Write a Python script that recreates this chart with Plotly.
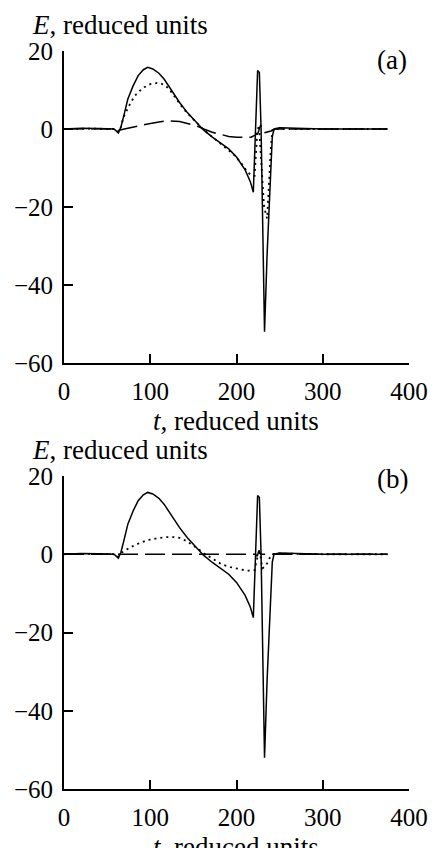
import plotly.graph_objects as go

# ---------------- data ----------------
# Solid curve (identical in panels a and b)
t_solid = [0, 20, 40, 58, 63, 66, 70, 74, 80, 86, 92, 97, 103, 110, 116, 125, 134,
           143, 153, 162, 172, 182, 191, 200, 210, 216, 219.5, 224.5, 226.5, 228.5,
           232.5, 235.5, 239.5, 241.5, 243.5, 250, 300, 375]
E_solid = [0, 0.2, 0.1, 0, -1.0, 0.5, 4.0, 7.7, 11.0, 13.7, 15.2, 15.8, 15.4, 14.3,
           12.8, 9.8, 6.8, 4.2, 1.7, -0.3, -2.1, -3.6, -5.1, -7.2, -10.5, -13.5,
           -16.2, 15.0, 14.5, 0, -52, -32, -14, -2, 0, 0.3, 0, 0]

# Panel (a) dotted
t_dot_a = [0, 30, 58, 63, 66, 69, 75, 82, 88, 93, 100, 108, 113, 118, 124, 131, 138,
           146, 153, 161, 170, 180, 189, 198, 206, 213, 218, 221, 224, 226, 229, 232,
           235.5, 238, 240, 242, 250, 300, 375]
E_dot_a = [0, 0.1, 0, -0.8, 0.5, 3.0, 5.8, 8.5, 9.8, 10.7, 11.5, 11.8, 11.6, 11.1,
           9.6, 7.3, 5.3, 3.4, 1.7, 0, -1.7, -3.4, -5.1, -6.8, -8.9, -11.1, -12,
           -12, -1, 1, -10, -20, -23, -12, -4, 0, 0, 0, 0]

# Panel (a) dashed
t_dash_a = [0, 30, 58, 63, 70, 80, 97, 110, 120, 134, 145, 153, 162, 172, 182, 191,
            200, 206, 217, 222, 225, 228, 232, 240, 245, 300, 375]
E_dash_a = [0, 0.1, 0, -0.4, 0, 0.5, 1.3, 1.8, 2.1, 1.9, 1.4, 0.85, 0, -0.85, -1.4,
            -1.9, -2.1, -2.1, -2.1, -1.5, -1, 1, -1, -0.5, 0, 0, 0]

# Panel (b) dotted
t_dot_b = [0, 30, 58, 63, 66, 72, 78, 88, 97, 108, 119, 127, 134, 142, 150, 156, 161,
           170, 183, 193, 202, 212, 221, 224, 227, 230, 234, 238, 242, 250, 300, 375]
E_dot_b = [0, 0.1, 0, -0.6, 0.3, 1.2, 1.9, 2.9, 3.6, 4.1, 4.4, 4.4, 4.2, 3.4, 2.3,
           1.3, 0.4, -0.9, -2.6, -3.3, -3.8, -4.2, -4.1, -1, 0.5, -3.6, -3.0, -1.1,
           0, 0.2, 0, 0]

# Panel (b) dashed
t_dash_b = [0, 222, 224, 226, 228, 240, 375]
E_dash_b = [0, 0, -0.5, 1, 0, 0, 0]

x_ticks = [0, 100, 200, 300, 400]
y_ticks = [-60, -40, -20, 0, 20]
panel_labels = ["(a)", "(b)"]
y_title = "<i>E</i>, reduced units"
x_title = "<i>t</i>, reduced units"

# ---------------- figure ----------------
FONT = "Liberation Serif, Times New Roman, serif"
W, H = 440, 848
ML, MR, MT, MB = 64, 21, 51, 59
PW, PH = W - ML - MR, H - MT - MB

def py(p):  # pixel y -> paper y
    return (H - MB - p) / PH

def px(p):  # pixel x -> paper x
    return (p - ML) / PW

fig = go.Figure()
black = "black"

def add_panel(xa, ya, series):
    for (t, e, dash, w) in series:
        fig.add_trace(go.Scatter(x=t, y=e, mode="lines", xaxis=xa, yaxis=ya,
                                 line=dict(color=black, width=w, dash=dash),
                                 showlegend=False, hoverinfo="skip"))

add_panel("x", "y", [
    (t_dash_a, E_dash_a, "20px,7px", 1.5),
    (t_dot_a, E_dot_a, "2px,4px", 1.8),
    (t_solid, E_solid, "solid", 1.5),
])
add_panel("x2", "y2", [
    (t_dash_b, E_dash_b, "20px,7px", 1.5),
    (t_dot_b, E_dot_b, "2px,4px", 1.8),
    (t_solid, E_solid, "solid", 1.5),
])

axis_common = dict(showgrid=False, zeroline=False, showline=True, linecolor=black,
                   linewidth=2, ticks="inside", ticklen=9, tickwidth=2,
                   tickcolor=black, tickfont=dict(family=FONT, size=25, color=black))

top_a, bot_a = 51, 363
top_b, bot_b = 476, 789

fig.update_layout(
    width=W, height=H, margin=dict(l=ML, r=MR, t=MT, b=MB),
    paper_bgcolor="white", plot_bgcolor="white",
    xaxis=dict(range=[0, 400], tickvals=x_ticks, domain=[0, 1], anchor="y",
               ticklabelstandoff=5, **axis_common),
    yaxis=dict(range=[-60, 20], tickvals=y_ticks, domain=[py(bot_a), py(top_a)],
               anchor="x", ticklabelstandoff=4, **axis_common),
    xaxis2=dict(range=[0, 400], tickvals=x_ticks, domain=[0, 1], anchor="y2",
                ticklabelstandoff=5, **axis_common),
    yaxis2=dict(range=[-60, 20], tickvals=y_ticks, domain=[py(bot_b), py(top_b)],
                anchor="x2", ticklabelstandoff=4, **axis_common),
)

ann_font = dict(family=FONT, size=27, color=black)
annots = []
for (ytitle_px, lab_px, xtitle_px, lab) in [(25, 59.5, 421, panel_labels[0]),
                                            (450, 478.5, 847, panel_labels[1])]:
    annots.append(dict(text=y_title, xref="paper", yref="paper", x=px(29),
                       y=py(ytitle_px), xanchor="left", yanchor="middle",
                       showarrow=False, font=ann_font))
    annots.append(dict(text=lab, xref="paper", yref="paper", x=px(402),
                       y=py(lab_px), xanchor="center", yanchor="middle",
                       showarrow=False, font=ann_font))
    annots.append(dict(text=x_title, xref="paper", yref="paper", x=px(241),
                       y=py(xtitle_px), xanchor="center", yanchor="middle",
                       showarrow=False, font=ann_font))
fig.update_layout(annotations=annots)

fig.write_html("out.html",
               config={"displayModeBar": False},
               post_script="document.body.style.margin='0';"
                           "document.body.style.overflow='hidden';")
